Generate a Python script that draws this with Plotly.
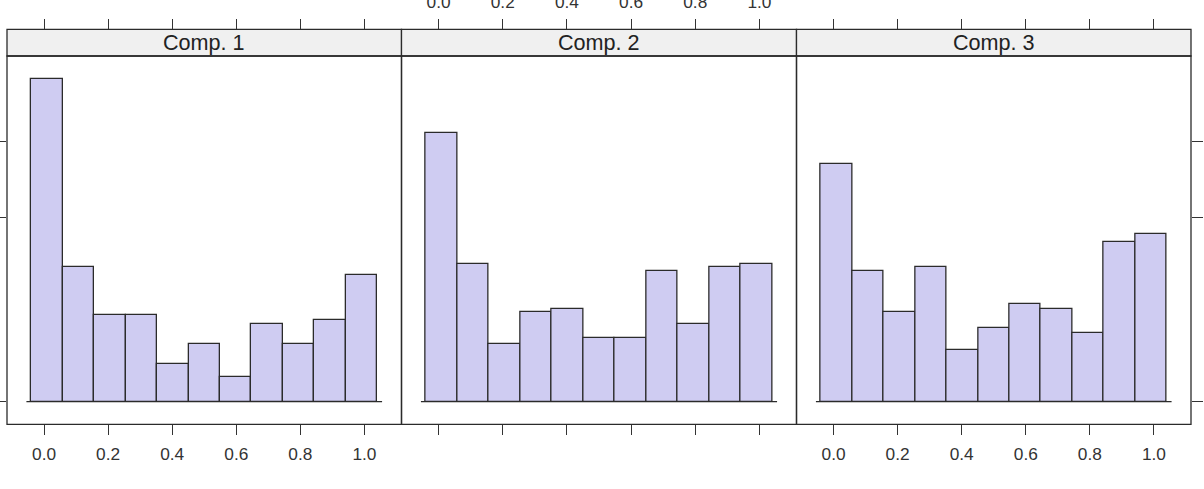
import plotly.graph_objects as go

# ---- data ----
panels = ["Comp. 1", "Comp. 2", "Comp. 3"]
bin_start = -0.04
bin_end = 1.04
n_bins = 11
comp1 = [29.5, 12.3, 7.9, 7.9, 3.4, 5.3, 2.3, 7.1, 5.3, 7.5, 11.6]
comp2 = [24.5, 12.6, 5.3, 8.2, 8.5, 5.8, 5.8, 11.9, 7.1, 12.3, 12.6]
comp3 = [21.7, 11.9, 8.2, 12.3, 4.7, 6.7, 8.9, 8.5, 6.3, 14.6, 15.3]
x_tickvals = [0.0, 0.2, 0.4, 0.6, 0.8, 1.0]
x_ticktext = ["0.0", "0.2", "0.4", "0.6", "0.8", "1.0"]
y_tickvals = [0, 16.8, 23.8]
x_range = [-0.1156, 1.1156]
y_range = [-2.065, 31.565]

series = [comp1, comp2, comp3]

W, H = 1204, 489
BAR_FILL = "#CFCCF2"
EDGE = "#2b2b2b"
TXT = "#333333"
FONT = "Liberation Sans, Arial, sans-serif"

bw = (bin_end - bin_start) / n_bins
centers = [bin_start + bw * (i + 0.5) for i in range(n_bins)]

# pixel geometry
px_x = [(7, 401.5), (401.5, 796.5), (796.5, 1191)]
panel_top, panel_bot = 56, 424.3
strip_top = 29.3

def fx(p):
    return p / W

def fy(p):
    return 1 - p / H

fig = go.Figure()

for i, vals in enumerate(series):
    xa = "x" if i == 0 else f"x{i+1}"
    ya = "y" if i == 0 else f"y{i+1}"
    fig.add_trace(go.Bar(
        x=centers, y=vals, width=bw, xaxis=xa, yaxis=ya,
        marker=dict(color=BAR_FILL, line=dict(color=EDGE, width=1.3)),
        showlegend=False, hoverinfo="skip"))
    ext = 0.015
    fig.add_trace(go.Scatter(
        x=[bin_start - ext, bin_end + ext], y=[0, 0], mode="lines",
        line=dict(color=EDGE, width=1.3), xaxis=xa, yaxis=ya,
        showlegend=False, hoverinfo="skip"))
    # invisible trace to activate the top axis above the strip
    fig.add_trace(go.Scatter(
        x=[x_tickvals[0], x_tickvals[-1]], y=[0, 0], mode="markers",
        marker=dict(opacity=0), xaxis=f"x{i+4}", yaxis=ya,
        showlegend=False, hoverinfo="skip"))

layout = dict(
    width=W, height=H,
    margin=dict(l=0, r=0, t=0, b=0),
    paper_bgcolor="white", plot_bgcolor="white",
    barmode="overlay", bargap=0,
    font=dict(family=FONT, size=17.3, color=TXT),
    shapes=[], annotations=[],
)

ydom = [fy(panel_bot), fy(panel_top)]
for i in range(3):
    sfx = "" if i == 0 else str(i + 1)
    dom = [fx(px_x[i][0]), fx(px_x[i][1])]
    # bottom axis
    layout["xaxis" + sfx] = dict(
        domain=dom, range=x_range, anchor="y" + sfx, side="bottom",
        tickvals=x_tickvals, ticktext=x_ticktext,
        showticklabels=(i != 1), ticks="outside", ticklen=10,
        tickwidth=1.2, tickcolor=TXT, showgrid=False, zeroline=False,
        showline=False, automargin=False, fixedrange=True,
        ticklabelstandoff=4)
    # top axis above strip
    top_id = i + 4
    layout[f"xaxis{top_id}"] = dict(
        domain=dom, range=x_range, overlaying="x" + sfx, anchor="free",
        position=fy(strip_top), side="top",
        tickvals=x_tickvals, ticktext=x_ticktext,
        showticklabels=(i == 1), ticks="outside", ticklen=10,
        tickwidth=1.2, tickcolor=TXT, showgrid=False, zeroline=False,
        showline=False, automargin=False, fixedrange=True,
        ticklabelstandoff=4)
    # y axis
    yax = dict(
        domain=ydom, range=y_range, anchor="x" + sfx,
        tickvals=y_tickvals, showticklabels=False,
        showgrid=False, zeroline=False, showline=False,
        automargin=False, fixedrange=True)
    if i == 0:
        yax.update(side="left", ticks="outside", ticklen=10,
                   tickwidth=1.2, tickcolor=TXT)
    elif i == 2:
        yax.update(side="right", ticks="outside", ticklen=11,
                   tickwidth=1.2, tickcolor=TXT)
    else:
        yax.update(ticks="")
    layout["yaxis" + sfx] = yax

    # panel border
    layout["shapes"].append(dict(
        type="rect", xref="paper", yref="paper",
        x0=dom[0], x1=dom[1], y0=ydom[0], y1=ydom[1],
        line=dict(color=EDGE, width=1.3), fillcolor="rgba(0,0,0,0)",
        layer="above"))
    # strip
    layout["shapes"].append(dict(
        type="rect", xref="paper", yref="paper",
        x0=dom[0], x1=dom[1], y0=fy(panel_top), y1=fy(strip_top),
        line=dict(color=EDGE, width=1.3), fillcolor="#F0F0F0",
        layer="below"))
    layout["annotations"].append(dict(
        text=panels[i], xref="paper", yref="paper",
        x=(dom[0] + dom[1]) / 2, y=(fy(panel_top) + fy(strip_top)) / 2,
        xanchor="center", yanchor="middle", showarrow=False,
        font=dict(family=FONT, size=21.6, color="#222222")))

fig.update_layout(**layout)
fig.write_html("out.html")
